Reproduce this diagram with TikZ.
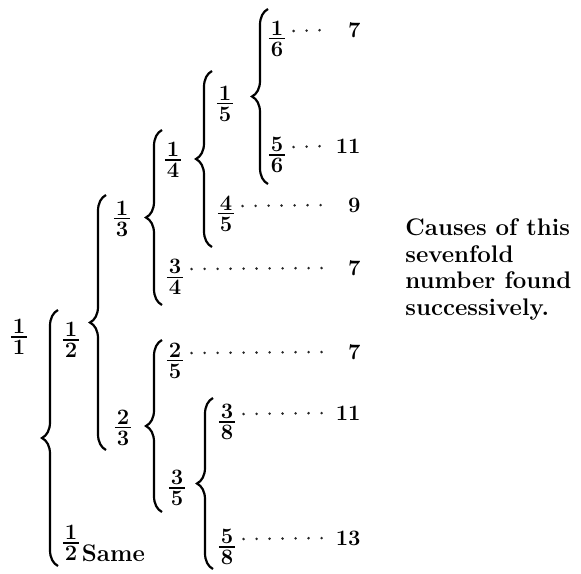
\documentclass[tikz,border=0pt]{standalone}
\usepackage{tikz}
\usetikzlibrary{decorations.pathreplacing}

% bold digits stacked over a short bar
\newcommand{\bfrac}[2]{$\vcenter{\hbox{\kern1pt#1\kern1pt}\kern1.4pt\hrule height0.6pt\kern1.4pt\hbox{\kern1pt#2\kern1pt}}$}

\begin{document}
\begin{tikzpicture}[x=0.5pt, y=-0.5pt,
  frac/.style={inner sep=0pt, font=\fontsize{11}{13}\selectfont\bfseries},
  num/.style={inner sep=0pt, anchor=east, yshift=4.5pt, font=\fontsize{11}{13}\selectfont\bfseries},
  leader/.style={line width=1.4pt, line cap=round, dash pattern=on 0pt off 6.5pt, black!85},
  brace/.style={decorate, decoration={brace, amplitude=8pt}, line width=1.1pt},
  note/.style={inner sep=0pt, align=left, font=\fontsize{12}{13.4}\selectfont\bfseries}
]
\useasboundingbox (0,0) rectangle (581,573);

% the fractions
\node[frac] (f11) at (19,337) {\bfrac{1}{1}};
\node[frac] (f12) at (71,340) {\bfrac{1}{2}};
\node[frac] (f12s) at (71,543) {\bfrac{1}{2}};
\node[frac, anchor=base west, xshift=1pt, font=\fontsize{12}{13}\selectfont\bfseries] (same) at (f12s.south east) {Same};
\node[frac] (f13) at (122,219) {\bfrac{1}{3}};
\node[frac] (f23) at (123,428) {\bfrac{2}{3}};
\node[frac] (f14) at (173,160) {\bfrac{1}{4}};
\node[frac] (f34) at (175,277) {\bfrac{3}{4}};
\node[frac] (f25) at (175,361) {\bfrac{2}{5}};
\node[frac] (f35) at (177,488) {\bfrac{3}{5}};
\node[frac] (f15) at (225,104) {\bfrac{1}{5}};
\node[frac] (f45) at (226,214) {\bfrac{4}{5}};
\node[frac] (f38) at (227,422) {\bfrac{3}{8}};
\node[frac] (f58) at (227,547) {\bfrac{5}{8}};
\node[frac] (f16) at (277,39) {\bfrac{1}{6}};
\node[frac] (f56) at (277,155) {\bfrac{5}{6}};

% braces, drawn upwards so the tip points left
\draw[brace] (58,566) -- (58,310);
\draw[brace] (106,450) -- (106,195);
\draw[brace] (162,305) -- (162,130);
\draw[brace] (162,512) -- (162,340);
\draw[brace] (212,247) -- (212,71);
\draw[brace] (213,569) -- (213,398);
\draw[brace] (268,184) -- (268,9);

% end counts and the dotted leaders
\coordinate (numx) at (361,0);
\coordinate (rim) at (326,0);
\node[num] (n16) at (f16 -| numx) {7};
\node[num] (n56) at (f56 -| numx) {11};
\node[num] (n45) at (f45 -| numx) {9};
\node[num] (n34) at (f34 -| numx) {7};
\node[num] (n25) at (f25 -| numx) {7};
\node[num] (n38) at (f38 -| numx) {11};
\node[num] (n58) at (f58 -| numx) {13};
\draw[leader] ([xshift=4pt,yshift=4pt]f16.east) -- (n16.west -| rim);
\draw[leader] ([xshift=4pt,yshift=4pt]f56.east) -- (n56.west -| rim);
\draw[leader] ([xshift=4pt,yshift=4pt]f45.east) -- (n45.west -| rim);
\draw[leader] ([xshift=4pt,yshift=4pt]f34.east) -- (n34.west -| rim);
\draw[leader] ([xshift=4pt,yshift=4pt]f25.east) -- (n25.west -| rim);
\draw[leader] ([xshift=4pt,yshift=4pt]f38.east) -- (n38.west -| rim);
\draw[leader] ([xshift=4pt,yshift=4pt]f58.east) -- (n58.west -| rim);

\node[note, anchor=north west] (cause) at (405,218) {Causes of this\\sevenfold\\number found\\successively.};
\end{tikzpicture}
\end{document}
